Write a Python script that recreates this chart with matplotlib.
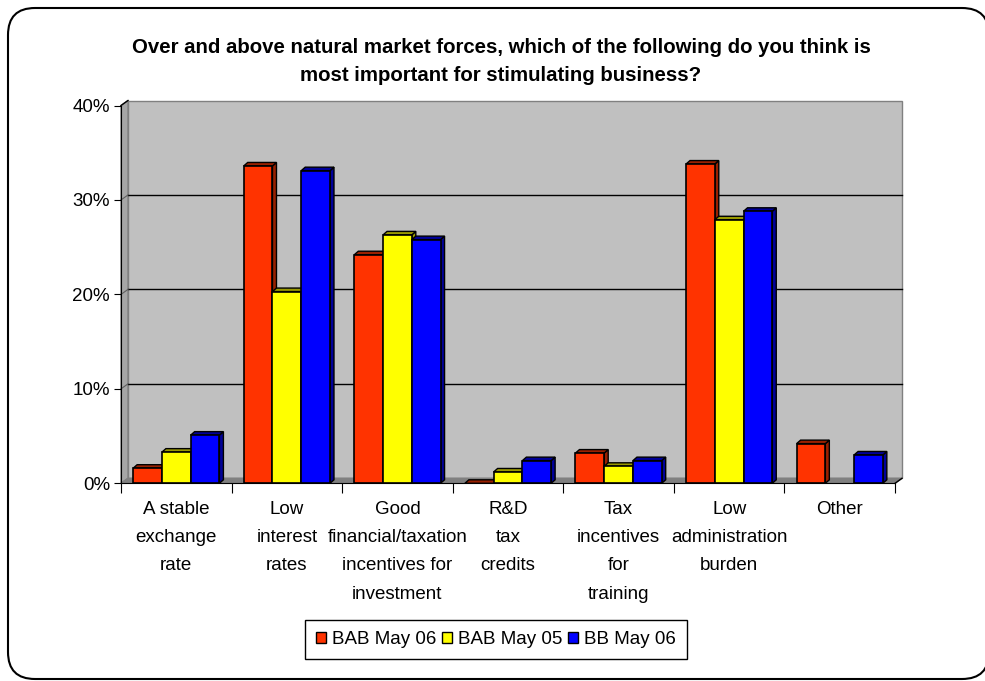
import numpy as np
import matplotlib
matplotlib.use("Agg")
import matplotlib.pyplot as plt
from matplotlib.patches import Polygon, Patch, FancyBboxPatch
from matplotlib.ticker import FuncFormatter

plt.rcParams['font.family'] = ['Liberation Sans', 'DejaVu Sans']

categories = ["A stable\nexchange\nrate", "Low\ninterest\nrates",
              "Good\nfinancial/taxation\nincentives for\ninvestment",
              "R&D\ntax\ncredits", "Tax\nincentives\nfor\ntraining",
              "Low\nadministration\nburden", "Other"]
series_names = ["BAB May 06", "BAB May 05", "BB May 06"]
bab_may06 = [1.6, 33.6, 24.2, 0.0, 3.2, 33.8, 4.2]
bab_may05 = [3.3, 20.3, 26.3, 1.2, 1.8, 27.9, np.nan]
bb_may06 = [5.1, 33.1, 25.8, 2.4, 2.4, 28.8, 3.0]
series = [bab_may06, bab_may05, bb_may06]

face_colors = ["#FF3300", "#FFFF00", "#0000FF"]
side_colors = ["#992000", "#999900", "#000099"]

W, H = 985, 681
fig = plt.figure(figsize=(W / 100, H / 100), dpi=100)

# rounded outer frame (right side runs off the canvas)
frame = FancyBboxPatch((0.08, 0.02), 9.81, 6.71,
                       boxstyle="round,pad=0,rounding_size=0.27",
                       transform=fig.dpi_scale_trans, facecolor="white",
                       edgecolor="black", linewidth=1.5, zorder=-10)
fig.patches.append(frame)

ax_l, ax_r, ax_b, ax_t = 121, 895, 483.3, 105.5
ax = fig.add_axes([ax_l / W, 1 - ax_b / H, (ax_r - ax_l) / W, (ax_b - ax_t) / H])
ax.set_facecolor("none")
n = len(categories)
ax.set_xlim(0, n)
ax.set_ylim(0, 40)

# pixel -> data conversions
px_x = n / (ax_r - ax_l)
px_y = 40 / (ax_b - ax_t)
wdx, wdy = 7 * px_x, 5 * px_y     # back wall depth
bdx, bdy = 4 * px_x, 3.5 * px_y   # bar depth

# back wall, side wall and floor
ax.add_patch(Polygon([(wdx, wdy), (n + wdx, wdy), (n + wdx, 40 + wdy), (wdx, 40 + wdy)],
                     closed=True, facecolor="#C0C0C0", edgecolor="#808080", lw=1,
                     zorder=0, clip_on=False))
ax.add_patch(Polygon([(0, 0), (wdx, wdy), (wdx, 40 + wdy), (0, 40)],
                     closed=True, facecolor="#A6A6A6", edgecolor="#808080", lw=1,
                     zorder=0.5, clip_on=False))
ax.add_patch(Polygon([(0, 0), (n, 0), (n + wdx, wdy), (wdx, wdy)],
                     closed=True, facecolor="#808080", edgecolor="#808080", lw=1,
                     zorder=0.5, clip_on=False))
for g in [10, 20, 30]:
    ax.plot([wdx, n + wdx], [g + wdy, g + wdy], color="black", lw=1, zorder=0.6,
            clip_on=False)
    ax.plot([0, wdx], [g, g + wdy], color="#606060", lw=0.8, zorder=0.6, clip_on=False)
ax.plot([0, wdx], [40, 40 + wdy], color="black", lw=1, zorder=0.6, clip_on=False)
ax.plot([n, n + wdx], [0, wdy], color="black", lw=1, zorder=0.6, clip_on=False)

# bars with a small 3D top and side
bw = 0.26
z = 2
for ci in range(n):
    for si, vals in enumerate(series):
        h = vals[ci]
        if np.isnan(h):
            continue
        x0 = ci + 0.5 + (si - 1) * bw - bw / 2
        x1 = x0 + bw
        ax.add_patch(Polygon([(x1, 0), (x1 + bdx, bdy), (x1 + bdx, h + bdy), (x1, h)],
                             closed=True, facecolor=side_colors[si], edgecolor="black",
                             lw=1, zorder=z, clip_on=False))
        ax.add_patch(Polygon([(x0, h), (x1, h), (x1 + bdx, h + bdy), (x0 + bdx, h + bdy)],
                             closed=True, facecolor=side_colors[si], edgecolor="black",
                             lw=1, zorder=z, clip_on=False))
        if h > 0:
            ax.bar(x0, h, width=bw, align="edge", color=face_colors[si],
                   edgecolor="black", linewidth=1.2, zorder=z + 0.5)
        z += 1

for s in ["top", "right"]:
    ax.spines[s].set_visible(False)
ax.spines["left"].set_zorder(50)
ax.spines["bottom"].set_zorder(50)

ax.set_yticks([0, 10, 20, 30, 40])
ax.yaxis.set_major_formatter(FuncFormatter(lambda v, p: f"{v:.0f}%"))
ax.tick_params(axis="y", length=5, labelsize=13.5, pad=3)

ax.set_xticks(np.arange(n + 1))
ax.set_xticklabels([])
ax.tick_params(axis="x", which="major", length=7)
ax.set_xticks(np.arange(n) + 0.5, minor=True)
ax.set_xticklabels(categories, minor=True)
ax.tick_params(axis="x", which="minor", length=0, labelsize=13.5, pad=13)
for lbl in ax.get_xticklabels(minor=True):
    lbl.set_linespacing(1.85)
    lbl.set_verticalalignment("top")

fig.text(501 / W, 1 - 61.5 / H,
         "Over and above natural market forces, which of the following do you think is\n"
         "most important for stimulating business?",
         ha="center", va="center", fontsize=14.7, fontweight="bold", linespacing=1.55)

handles = [Patch(facecolor=c, edgecolor="black", linewidth=1) for c in face_colors]
leg = fig.legend(handles, series_names, loc="center", ncol=3,
                 bbox_to_anchor=(496 / W, 1 - 639.5 / H), fontsize=13.5,
                 handlelength=0.55, handleheight=0.55, handletextpad=0.3,
                 columnspacing=0.3, fancybox=False, framealpha=1,
                 borderpad=0.6, edgecolor="black")
leg.get_frame().set_linewidth(1)

fig.savefig("out.png", dpi=100)
plt.close(fig)
